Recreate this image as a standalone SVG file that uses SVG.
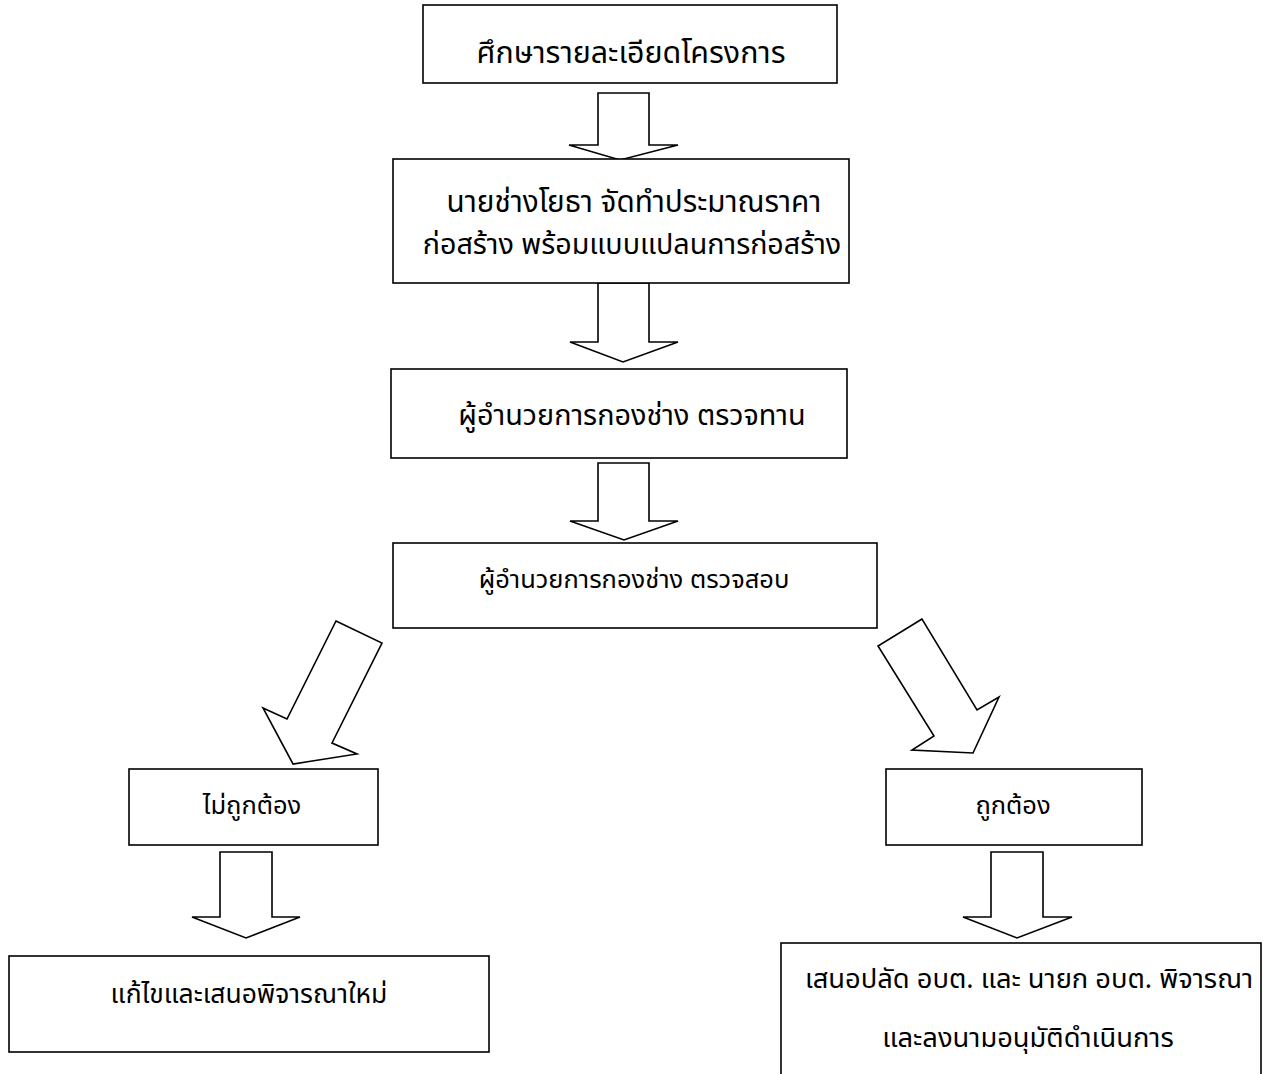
<svg xmlns="http://www.w3.org/2000/svg" width="1263" height="1074" viewBox="0 0 1263 1074">
<style>
.box{fill:#fff;stroke:#000;stroke-width:1.6}
.arr{fill:#fff;stroke:#000;stroke-width:1.6;stroke-linejoin:miter}
text{font-family:"Noto Sans Thai","Noto Sans","DejaVu Sans",sans-serif;fill:#000;text-anchor:middle}
.t1{font-size:29.7px}
.t2{font-size:25.5px}
.t3{font-size:26.5px}
.t4{font-size:27.3px}
</style>
<rect width="1263" height="1074" fill="#fff"/>
<g id="connectors">
<polygon class="arr" points="598,93 649,93 649,145 678,145 620,160 569,145 598,145"/>
<polygon class="arr" points="598,283 649,283 649,342 678,342 623,362 570,342 598,342"/>
<polygon class="arr" points="598,463 649,463 649,521 678,521 624,540 570,521 598,521"/>
<polygon class="arr" points="336,621 382,643 332,743 357,754 293,764 263,708 287,719"/>
<polygon class="arr" points="922,619 878,646 934,736 912,750 973,753 999,697 977,710"/>
<polygon class="arr" points="220,852 272,852 272,917 300,917 246,938 192,917 220,917"/>
<polygon class="arr" points="991,852 1043,852 1043,917 1072,917 1017,938 963,917 991,917"/>
</g>
<g id="n1"><rect class="box" x="423" y="5" width="414" height="78"/><text class="t1" x="631" y="63" style="font-size:30.4px">ศึกษารายละเอียดโครงการ</text></g>
<g id="n2"><rect class="box" x="393" y="159" width="456" height="124"/><text class="t1" x="634" y="212">นายช่างโยธา จัดทำประมาณราคา</text><text class="t1" x="632" y="254" style="font-size:28.7px">ก่อสร้าง พร้อมแบบแปลนการก่อสร้าง</text></g>
<g id="n3"><rect class="box" x="391" y="369" width="456" height="89"/><text class="t1" x="632" y="425" style="font-size:28.8px">ผู้อำนวยการกองช่าง ตรวจทาน</text></g>
<g id="n4"><rect class="box" x="393" y="543" width="484" height="85"/><text class="t2" x="634" y="588">ผู้อำนวยการกองช่าง ตรวจสอบ</text></g>
<g id="n5"><rect class="box" x="129" y="769" width="249" height="76"/><text class="t2" x="252" y="814">ไม่ถูกต้อง</text></g>
<g id="n6"><rect class="box" x="886" y="769" width="256" height="76"/><text class="t2" x="1013" y="814">ถูกต้อง</text></g>
<g id="n7"><rect class="box" x="9" y="956" width="480" height="96"/><text class="t3" x="249" y="1003">แก้ไขและเสนอพิจารณาใหม่</text></g>
<g id="n8"><rect class="box" x="781" y="943" width="480" height="140"/><text class="t4" x="1029" y="988">เสนอปลัด อบต. และ นายก อบต. พิจารณา</text><text class="t4" x="1028" y="1047">และลงนามอนุมัติดำเนินการ</text></g>
</svg>
